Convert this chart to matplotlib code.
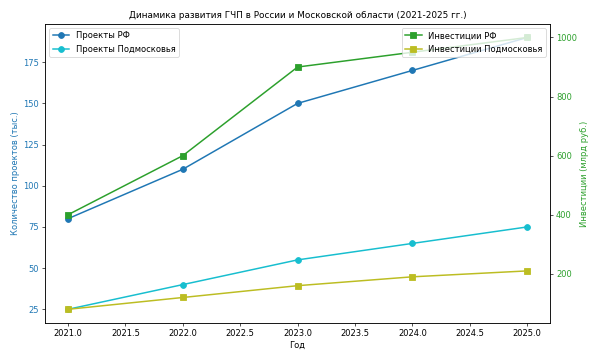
"""Динамика развития ГЧП: проекты и инвестиции."""

import matplotlib.pyplot as plt

years = [2021, 2022, 2023, 2024, 2025]
projects_rf = [80, 110, 150, 170, 190]
projects_mo = [25, 40, 55, 65, 75]
invest_rf = [400, 600, 900, 950, 1000]
invest_mo = [80, 120, 160, 190, 210]

fig, ax1 = plt.subplots(figsize=(10, 362 / 60), dpi=60)

line_kw = dict(linewidth=1.8, markersize=7)

# Left axis: number of projects
ax1.plot(years, projects_rf, marker="o", color="tab:blue", label="Проекты РФ", **line_kw)
ax1.plot(years, projects_mo, marker="o", color="tab:cyan", label="Проекты Подмосковья", **line_kw)
ax1.set_xlabel("Год")
ax1.set_ylabel("Количество проектов (тыс.)", color="tab:blue")
ax1.tick_params(axis="y", labelcolor="tab:blue")

# Right axis: investments
ax2 = ax1.twinx()
ax2.plot(years, invest_rf, marker="s", color="tab:green", label="Инвестиции РФ", **line_kw)
ax2.plot(years, invest_mo, marker="s", color="tab:olive", label="Инвестиции Подмосковья", **line_kw)
ax2.set_ylabel("Инвестиции (млрд руб.)", color="tab:green")
ax2.tick_params(axis="y", labelcolor="tab:green")

ax1.legend(loc="upper left")
ax2.legend(loc="upper right")

plt.title("Динамика развития ГЧП в России и Московской области (2021-2025 гг.)",
          fontsize=10.6, pad=7)
fig.subplots_adjust(left=0.075, right=0.917, top=0.934, bottom=0.108)
plt.savefig("out.png")
